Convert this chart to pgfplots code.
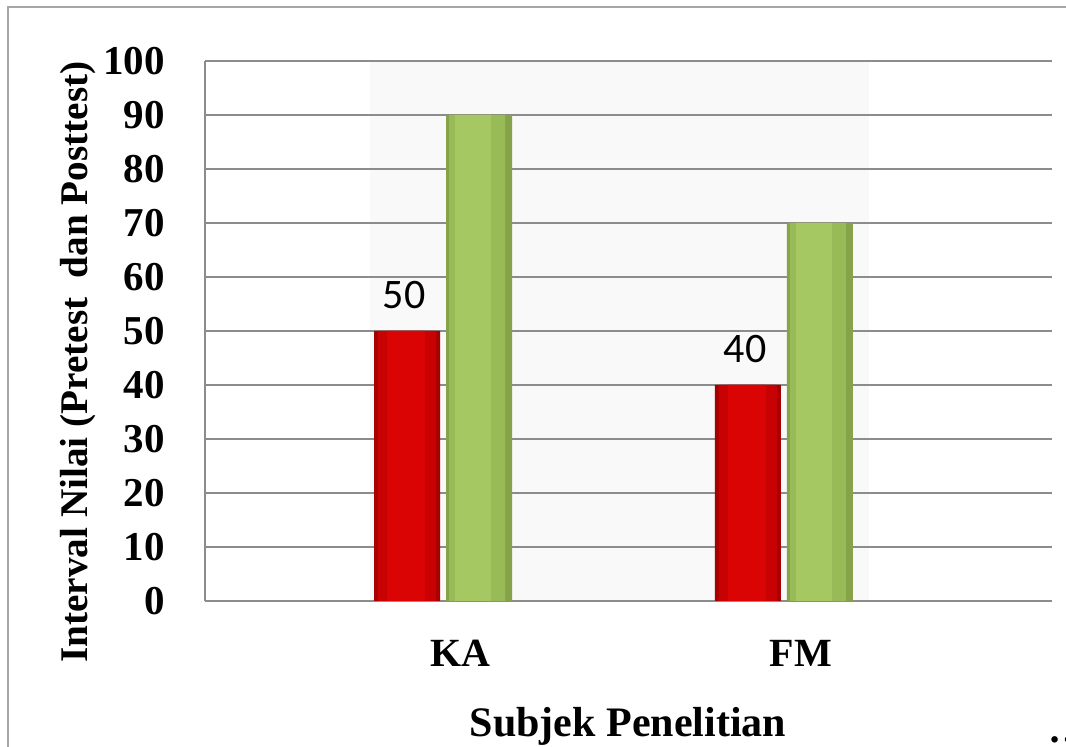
\documentclass[border=0pt]{standalone}
\usepackage{fontspec}
\setmainfont{Liberation Serif}
\newfontfamily\calib{Carlito}
\usepackage{pgfplots}
\pgfplotsset{compat=1.18}

\definecolor{gridgray}{HTML}{8C8C8C}
\definecolor{framegray}{HTML}{A6A6A6}
\definecolor{bandgray}{HTML}{F9F9F9}
\definecolor{redA}{HTML}{A80000}
\definecolor{redB}{HTML}{C80202}
\definecolor{redC}{HTML}{DA0404}
\definecolor{grnA}{HTML}{86A349}
\definecolor{grnB}{HTML}{98BA57}
\definecolor{grnC}{HTML}{A6C862}

\pgfplotstableread{
x pre post
0 50  90
1 40  70
}\scores

\begin{document}
\begin{tikzpicture}
\fill[white] (0pt,0pt) rectangle (533pt,373.5pt);
% outer frame of the chart area
\draw[framegray, line width=0.8pt] (4pt,0pt) -- (4pt,370pt) -- (533pt,370pt);
% pale back wall behind the bars
\fill[bandgray] (185pt,73pt) rectangle (434.5pt,343pt);

\begin{axis}[
  at={(102.5pt,73pt)}, anchor=south west,
  width=423.5pt, height=270pt, scale only axis,
  xmin=-0.698, xmax=1.786,
  ymin=0, ymax=100,
  ytick={0,10,...,100},
  xtick={0,1}, xticklabels={KA,FM},
  major tick length=0pt,
  ymajorgrids,
  grid style={gridgray, line width=1pt},
  axis x line*=bottom, axis y line*=left,
  axis line style={gridgray, line width=1pt, -},
  /pgf/number format/assume math mode=true,
  yticklabel style={font=\fontsize{20.5}{20.5}\selectfont\bfseries, anchor=east, inner sep=0pt, xshift=-20pt},
  xticklabel style={font=\fontsize{20}{20}\selectfont\bfseries, anchor=north, inner sep=0pt, yshift=-19.5pt, xshift=8.5pt},
  every axis plot/.append style={ybar, draw=none},
]
% Pretest: dark rim, body, bright centre
\addplot[bar width=33pt, bar shift=-18pt, fill=redA] table[x=x, y=pre] {\scores};
\addplot[bar width=29pt, bar shift=-18pt, fill=redB] table[x=x, y=pre] {\scores};
\addplot[bar width=19pt, bar shift=-18.5pt, fill=redC,
  nodes near coords,
  every node near coord/.style={font=\calib\fontsize{21}{21}\selectfont, text=black, anchor=south, inner sep=0pt, yshift=11pt, xshift=-19.5pt}]
  table[x=x, y=pre] {\scores};

% Posttest: darker on the right, lighter on the left
\addplot[bar width=33pt, bar shift=18pt, fill=grnA] table[x=x, y=post] {\scores};
\addplot[bar width=28pt, bar shift=17pt, fill=grnB] table[x=x, y=post] {\scores};
\addplot[bar width=18pt, bar shift=15pt, fill=grnC] table[x=x, y=post] {\scores};
\end{axis}

\node[rotate=90, font=\fontsize{19.6}{19.6}\selectfont\bfseries] at (39pt,192.5pt)
  {Interval Nilai (Pretest\ \ dan Posttest)};
\node[anchor=base, font=\fontsize{21}{21}\selectfont\bfseries] at (314pt,5pt)
  {Subjek Penelitian};
\node[anchor=base west, inner sep=0pt, font=\fontsize{20}{20}\selectfont\bfseries] at (524pt,2pt) {\dots};

\pgfresetboundingbox
\useasboundingbox (0pt,0pt) rectangle (533pt,373.5pt);
\end{tikzpicture}
\end{document}
